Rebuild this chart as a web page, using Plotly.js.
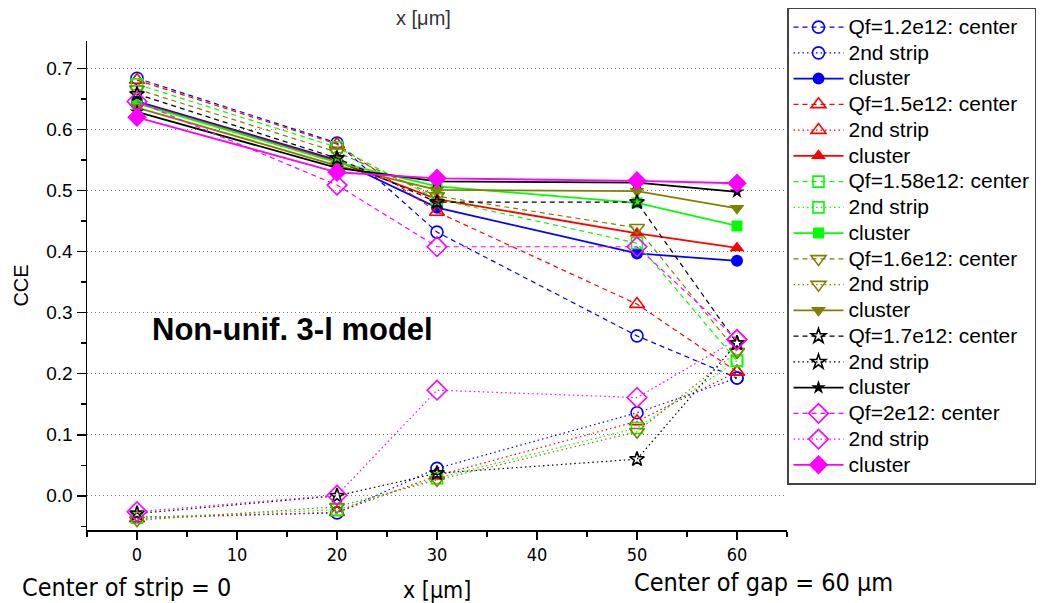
<!DOCTYPE html>
<html><head><meta charset="utf-8">
<script src="https://cdn.plot.ly/plotly-3.0.1.min.js"></script>
<style>body{margin:0;background:#fff}#chart{width:1041px;height:603px}</style>
</head><body><div id="chart"></div>
<script>
const xPositions = [0, 20, 30, 50, 60];
const xTickVals = [0, 10, 20, 30, 40, 50, 60];

const qf12Center  = [0.684, 0.578, 0.432, 0.262, 0.193];
const qf12Strip2  = [-0.035, -0.028, 0.045, 0.136, 0.193];
const qf12Cluster = [0.646, 0.550, 0.472, 0.397, 0.385];

const qf15Center  = [0.681, 0.576, 0.465, 0.314, 0.203];
const qf15Strip2  = [-0.037, -0.027, 0.033, 0.122, 0.203];
const qf15Cluster = [0.644, 0.548, 0.486, 0.430, 0.406];

const qf158Center  = [0.674, 0.571, 0.486, 0.414, 0.221];
const qf158Strip2  = [-0.036, -0.023, 0.029, 0.111, 0.221];
const qf158Cluster = [0.643, 0.546, 0.507, 0.480, 0.442];

const qf16Center  = [0.666, 0.563, 0.491, 0.439, 0.236];
const qf16Strip2  = [-0.040, -0.018, 0.026, 0.105, 0.236];
const qf16Cluster = [0.636, 0.541, 0.501, 0.499, 0.471];

const qf17Center  = [0.658, 0.553, 0.481, 0.481, 0.250];
const qf17Strip2  = [-0.029, 0.000, 0.037, 0.060, 0.250];
const qf17Cluster = [0.629, 0.537, 0.515, 0.513, 0.498];

const qf2Center  = [0.646, 0.509, 0.408, 0.408, 0.256];
const qf2Strip2  = [-0.026, 0.001, 0.173, 0.161, 0.256];
const qf2Cluster = [0.620, 0.530, 0.520, 0.516, 0.512];

const groupLabels = ['Qf=1.2e12', 'Qf=1.5e12', 'Qf=1.58e12', 'Qf=1.6e12', 'Qf=1.7e12', 'Qf=2e12'];
const centerSeries = [qf12Center, qf15Center, qf158Center, qf16Center, qf17Center, qf2Center];
const strip2Series = [qf12Strip2, qf15Strip2, qf158Strip2, qf16Strip2, qf17Strip2, qf2Strip2];
const clusterSeries = [qf12Cluster, qf15Cluster, qf158Cluster, qf16Cluster, qf17Cluster, qf2Cluster];

const colors = ['#0000ff', '#ff0000', '#00ff00', '#808000', '#000000', '#ff00ff'];
const openSymbols = ['circle-open', 'triangle-up-open', 'square-open', 'triangle-down-open', 'star-open', 'diamond-open'];
const filledSymbols = ['circle', 'triangle-up', 'square', 'triangle-down', 'star', 'diamond'];
const markerSizes = [12, 13, 11, 13, 11, 15];

function legendName(s) { return '<span style="font-size:21px">' + s + '</span>'; }

const traces = [];
for (let i = 0; i < groupLabels.length; i++) {
  traces.push({
    x: xPositions, y: centerSeries[i], type: 'scatter', mode: 'lines+markers',
    name: legendName(groupLabels[i] + ': center'),
    line: {color: colors[i], width: 1.2, dash: '5px,4px'},
    marker: {symbol: openSymbols[i], size: markerSizes[i], color: colors[i], line: {color: colors[i], width: 1.6}}
  });
  traces.push({
    x: xPositions, y: strip2Series[i], type: 'scatter', mode: 'lines+markers',
    name: legendName('2nd strip'),
    line: {color: colors[i], width: 1.2, dash: '1.5px,3px'},
    marker: {symbol: openSymbols[i], size: markerSizes[i], color: colors[i], line: {color: colors[i], width: 1.6}}
  });
  traces.push({
    x: xPositions, y: clusterSeries[i], type: 'scatter', mode: 'lines+markers',
    name: legendName('cluster'),
    line: {color: colors[i], width: 1.8},
    marker: {symbol: filledSymbols[i], size: markerSizes[i], color: colors[i], line: {width: 0}}
  });
}

const narrow = '"Liberation Sans Narrow", "Arial Narrow", "DejaVu Sans Condensed", sans-serif';
const layout = {
  width: 1041, height: 603,
  margin: {l: 87, r: 254, t: 41, b: 73, autoexpand: false},
  paper_bgcolor: '#ffffff', plot_bgcolor: '#ffffff',
  font: {family: 'Arial, "Liberation Sans", sans-serif', color: '#000'},
  showlegend: true,
  xaxis: {
    range: [-5, 65], tickvals: xTickVals, ticktext: xTickVals.map(String),
    ticks: 'outside', ticklen: 8, tickwidth: 1.5, tickcolor: '#000',
    showline: true, linecolor: '#000', linewidth: 1.5,
    showgrid: false, zeroline: false,
    tickfont: {family: narrow, size: 18},
    minor: {tickvals: [-5, 5, 15, 25, 35, 45, 55, 65], ticks: 'outside', ticklen: 5, tickwidth: 1.5, tickcolor: '#000', showgrid: false}
  },
  yaxis: {
    range: [-0.056, 0.745], dtick: 0.1, tick0: 0, tickformat: '.1f',
    ticks: 'outside', ticklen: 9, tickwidth: 1.5, tickcolor: '#000',
    showline: true, linecolor: '#000', linewidth: 1.5,
    showgrid: true, gridcolor: '#777', gridwidth: 1, griddash: '1px,3px',
    zeroline: false,
    tickfont: {size: 19},
    title: {text: 'CCE', font: {size: 20}, standoff: 12},
    minor: {dtick: 0.05, tick0: 0, ticks: 'outside', ticklen: 5, tickwidth: 1.5, tickcolor: '#000', showgrid: false}
  },
  legend: {
    x: 1.0, xanchor: 'left', y: 1.068, yanchor: 'top',
    bordercolor: '#444', borderwidth: 1.5, bgcolor: '#ffffff',
    font: {size: 17.5}, itemwidth: 50, tracegroupgap: 0, traceorder: 'normal',
    maxheight: 600
  },
  annotations: [
    {xref: 'paper', yref: 'paper', x: 0.09, y: 0.409, xanchor: 'left', yanchor: 'middle', showarrow: false,
     text: '<b>Non-unif. 3-l model</b>', font: {size: 31}},
    {xref: 'paper', yref: 'paper', x: -0.0957, y: -0.1186, xanchor: 'left', yanchor: 'middle', showarrow: false,
     text: 'Center of strip = 0', font: {family: narrow, size: 25}},
    {xref: 'paper', yref: 'paper', x: 0.5, y: -0.1227, xanchor: 'center', yanchor: 'middle', showarrow: false,
     text: 'x [\u03bcm]', font: {family: narrow, size: 23}},
    {xref: 'paper', yref: 'paper', x: 0.7786, y: -0.108, xanchor: 'left', yanchor: 'middle', showarrow: false,
     text: 'Center of gap = 60 \u03bcm', font: {family: narrow, size: 25}},
    {xref: 'paper', yref: 'paper', x: 0.481, y: 1.047, xanchor: 'center', yanchor: 'middle', showarrow: false,
     text: 'x [\u03bcm]', font: {size: 20, color: '#333'}}
  ]
};

Plotly.newPlot('chart', traces, layout, {displayModeBar: false, staticPlot: true});
</script>
</body></html>
